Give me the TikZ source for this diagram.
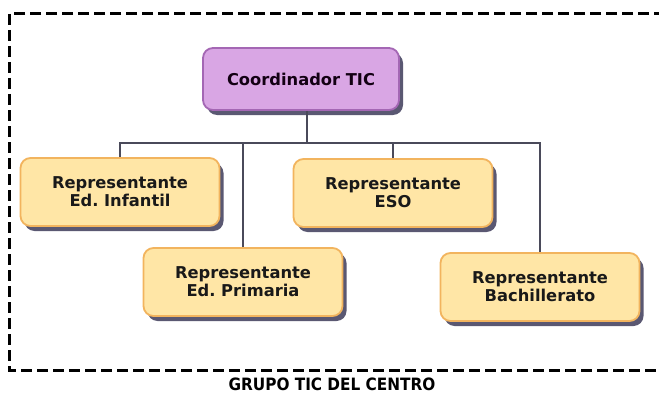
\documentclass[tikz,border=0pt]{standalone}
\usepackage{fontspec}
\setmainfont{DejaVu Sans}
\newfontfamily\titulofont{DejaVu Sans Condensed}
\usepackage{tikz}
\usetikzlibrary{shapes,positioning,shadows}
\definecolor{lila}{HTML}{D9A6E4}
\definecolor{lilaborde}{HTML}{A467B4}
\definecolor{crema}{HTML}{FFE6A6}
\definecolor{cremaborde}{HTML}{F2B45E}
\definecolor{sombra}{HTML}{5A5872}
\definecolor{linea}{HTML}{4A4A5A}
\tikzset{
  basic/.style  = {draw, rectangle, rounded corners=10pt, line width=1.8pt, align=center,
                   font=\bfseries\fontsize{16.3}{18}\selectfont, inner sep=0pt,
                   drop shadow={shadow xshift=4pt, shadow yshift=-5pt, fill=sombra, opacity=1}},
  jefe/.style   = {basic, fill=lila, draw=lilaborde, text=black!85!violet,
                   minimum width=196pt, minimum height=62pt},
  repre/.style  = {basic, fill=crema, draw=cremaborde, text=black!90,
                   minimum width=199pt, minimum height=68pt},
  conector/.style = {draw=linea, line width=1.1pt}
}
\begin{document}
\begin{tikzpicture}[x=1pt, y=-1pt]
\useasboundingbox (0,0) rectangle (659,396);

% marco discontinuo del grupo
\draw[line width=3pt, dash pattern=on 11pt off 5pt] (665,14) -- (9,14) -- (9,370) -- (665,370);
\node[font=\titulofont\bfseries\fontsize{17}{19}\selectfont] (titulo) at (332,384) {GRUPO TIC DEL CENTRO};

% nivel 1
\node[jefe] (coord) at (301,79) {Coordinador TIC};

% nivel 2, representantes
\node[repre] (r1) at (120,192) {Representante\\Ed.\ Infantil};
\node[repre] (r2) at (243,282) {Representante\\Ed.\ Primaria};
\node[repre] (r3) at (393,193) {Representante\\ESO};
\node[repre] (r4) at (540,287) {Representante\\Bachillerato};

% conectores
\coordinate (bus) at (0,143);
\draw[conector] ([xshift=6pt]coord.south) -- ([xshift=6pt]coord.south |- bus);
\draw[conector] (r1.north) -- (r1.north |- bus) -- (r4.north |- bus) -- (r4.north);
\draw[conector] (r2.north) -- (r2.north |- bus);
\draw[conector] (r3.north) -- (r3.north |- bus);
\end{tikzpicture}
\end{document}
